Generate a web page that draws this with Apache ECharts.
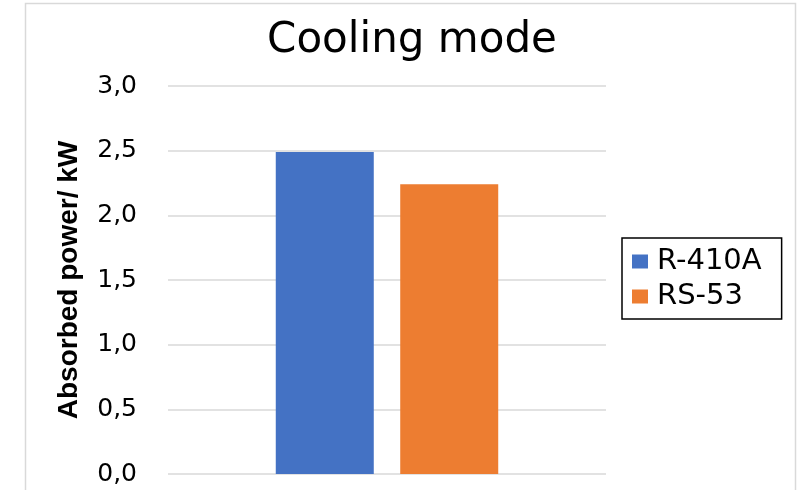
<!DOCTYPE html>
<html>
<head>
<meta charset="utf-8">
<script src="https://cdn.jsdelivr.net/npm/echarts@6/dist/echarts.min.js"></script>
<style>
html,body{margin:0;padding:0;background:#fff;}
#chartDiv{width:798px;height:490px;}
</style>
</head>
<body>
<div id="chartDiv"></div>
<script>
var categories = ['Cooling mode'];
var r410a = [2.49];
var rs53 = [2.24];
var seriesNames = ['R-410A', 'RS-53'];

var chart = echarts.init(document.getElementById('chartDiv'));

function drawChart(){
    var option = {
        animation: false,
        textStyle: {fontFamily: 'DejaVu Sans'},
        title: {
            text: 'Cooling mode',
            left: 407,
            top: 15,
            textAlign: 'center',
            textStyle: {fontSize: 42, fontWeight: 'normal', color: '#000', fontFamily: 'DejaVu Sans'}
        },
        graphic: [{
            type: 'rect',
            shape: {x: 25.5, y: 3.5, width: 770, height: 500},
            style: {fill: 'none', stroke: '#d9d9d9', lineWidth: 1.5},
            silent: true
        }],
        legend: {
            orient: 'vertical',
            left: 622,
            top: 238,
            data: seriesNames,
            itemWidth: 16,
            itemHeight: 14,
            itemGap: 6,
            padding: [9, 20, 8, 10],
            borderColor: '#000',
            borderWidth: 1.5,
            borderRadius: 0,
            icon: 'rect',
            textStyle: {fontSize: 29, color: '#000', fontFamily: 'DejaVu Sans', padding: [0, 0, 0, 4]}
        },
        grid: {left: 168, right: 192, top: 86, bottom: 16, containLabel: false},
        xAxis: {
            type: 'category',
            data: categories,
            axisLine: {show: false},
            axisTick: {show: false},
            axisLabel: {show: false}
        },
        yAxis: {
            type: 'value',
            min: 0,
            max: 3,
            interval: 0.5,
            name: 'Absorbed power/ kW',
            nameLocation: 'middle',
            nameGap: 85,
            nameTextStyle: {fontSize: 28, fontWeight: 'bold', color: '#000', fontFamily: 'Liberation Sans'},
            axisLine: {show: false},
            axisTick: {show: false},
            axisLabel: {
                fontSize: 25,
                color: '#000',
                margin: 31,
                formatter: function (v) { return v.toFixed(1).replace('.', ','); }
            },
            splitLine: {lineStyle: {color: '#d9d9d9', width: 1.5}}
        },
        series: [{
            name: seriesNames[0],
            type: 'bar',
            data: r410a,
            barWidth: 98,
            barGap: '27%',
            itemStyle: {color: '#4472C4'}
        }, {
            name: seriesNames[1],
            type: 'bar',
            data: rs53,
            barWidth: 98,
            itemStyle: {color: '#ED7D31'}
        }]
    };
    chart.setOption(option);
}
drawChart();
</script>
</body>
</html>
